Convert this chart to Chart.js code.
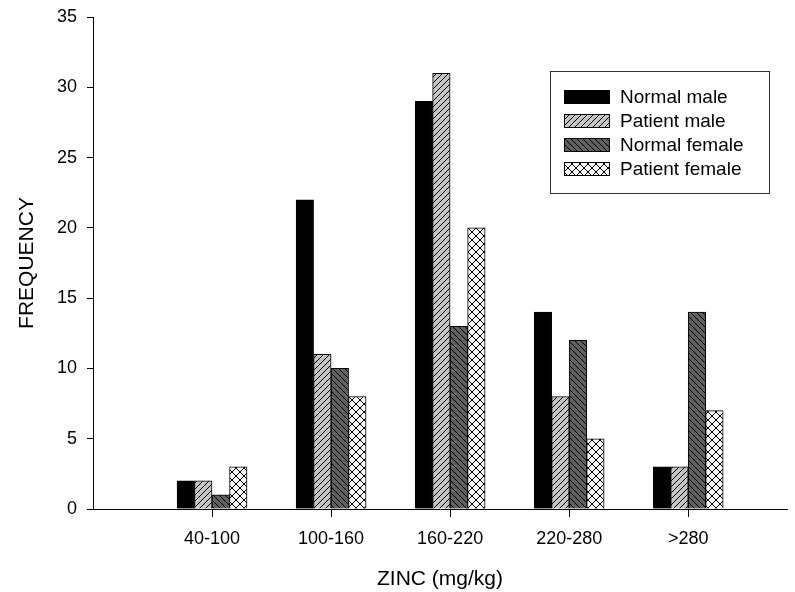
<!DOCTYPE html>
<html>
<head>
<meta charset="utf-8">
<title>Zinc frequency</title>
<script src="https://cdn.jsdelivr.net/npm/chart.js@4/dist/chart.umd.min.js"></script>
<style>
  html, body { margin: 0; padding: 0; background: #ffffff; }
  canvas { display: block; }
</style>
</head>
<body>
<canvas id="chart" width="795" height="592"></canvas>
<script>
// Zinc concentration classes and the frequency of each group
const categories = ['40-100', '100-160', '160-220', '220-280', '>280'];
const normalMale = [2, 22, 29, 14, 3];
const patientMale = [2, 11, 31, 8, 3];
const normalFemale = [1, 10, 13, 12, 14];
const patientFemale = [3, 8, 20, 5, 7];
const seriesNames = ['Normal male', 'Patient male', 'Normal female', 'Patient female'];

const FONT = '"Liberation Sans", Arial, Helvetica, sans-serif';

// Fill patterns for the hatched bars
function makePattern(size, bg, draw) {
  const c = document.createElement('canvas');
  c.width = size; c.height = size;
  const g = c.getContext('2d');
  g.fillStyle = bg;
  g.fillRect(0, 0, size, size);
  g.strokeStyle = '#000000';
  g.lineWidth = 1;
  draw(g, size);
  return document.createElement('canvas').getContext('2d').createPattern(c, 'repeat');
}
function forward(g, s) {
  g.beginPath();
  g.moveTo(0, s); g.lineTo(s, 0);
  g.moveTo(-1, 1); g.lineTo(1, -1);
  g.moveTo(s - 1, s + 1); g.lineTo(s + 1, s - 1);
  g.stroke();
}
function backward(g, s) {
  g.beginPath();
  g.moveTo(0, 0); g.lineTo(s, s);
  g.moveTo(s - 1, -1); g.lineTo(s + 1, 1);
  g.moveTo(-1, s - 1); g.lineTo(1, s + 1);
  g.stroke();
}
const fills = [
  '#000000',
  makePattern(6, '#c4c4c4', forward),
  makePattern(6, '#606060', backward),
  makePattern(8, '#f4f4f4', (g, s) => { forward(g, s); backward(g, s); })
];

const seriesValues = [normalMale, patientMale, normalFemale, patientFemale];
const datasets = seriesValues.map((vals, k) => ({
  label: seriesNames[k],
  data: vals.map((v, i) => ({ x: i + 1, y: v })),
  backgroundColor: fills[k],
  borderColor: '#000000',
  borderWidth: 1,
  barThickness: 17.5
}));

// Boxed legend inside the plot area
const boxedLegend = {
  id: 'boxedLegend',
  afterDraw(chart) {
    const ctx = chart.ctx;
    const x0 = 550, y0 = 71, w = 219, h = 122;
    ctx.save();
    ctx.fillStyle = '#ffffff';
    ctx.fillRect(x0, y0, w, h);
    ctx.strokeStyle = '#333333';
    ctx.lineWidth = 1;
    ctx.strokeRect(x0 + 0.5, y0 + 0.5, w, h);
    ctx.font = '19px ' + FONT;
    ctx.textBaseline = 'middle';
    chart.data.datasets.forEach((ds, k) => {
      const cy = 97 + k * 24;
      ctx.fillStyle = ds.backgroundColor;
      ctx.fillRect(564, cy - 7, 46, 14);
      ctx.strokeStyle = '#000000';
      ctx.strokeRect(564.5, cy - 6.5, 45, 13);
      ctx.fillStyle = '#000000';
      ctx.fillText(ds.label, 620, cy + 1);
    });
    ctx.restore();
  }
};

new Chart(document.getElementById('chart'), {
  type: 'bar',
  data: { datasets },
  plugins: [boxedLegend],
  options: {
    responsive: false,
    animation: false,
    layout: { padding: { top: 17, right: 8, bottom: 0, left: 0 } },
    plugins: { legend: { display: false }, tooltip: { enabled: false } },
    scales: {
      x: {
        type: 'linear',
        offset: false,
        min: 0,
        max: 5.83,
        afterBuildTicks(scale) {
          scale.ticks = categories.map((c, i) => ({ value: i + 1 }));
        },
        afterFit(scale) { scale.height = 83; },
        ticks: {
          color: '#000000',
          font: { family: FONT, size: 18 },
          padding: 11,
          maxRotation: 0,
          autoSkip: false,
          callback: (v) => categories[v - 1]
        },
        grid: { offset: false, drawOnChartArea: false, drawTicks: true, tickLength: 8, color: '#000000', lineWidth: 1 },
        border: { display: true, color: '#000000', width: 1 },
        title: {
          display: true,
          text: 'ZINC (mg/kg)',
          color: '#000000',
          font: { family: FONT, size: 21 },
          padding: { top: 4, bottom: 0 }
        }
      },
      y: {
        min: 0,
        max: 35,
        afterFit(scale) {
          scale.width = 93;
          scale.paddingTop = 10;
          scale.paddingBottom = 10;
        },
        ticks: {
          stepSize: 5,
          color: '#000000',
          font: { family: FONT, size: 18 },
          padding: 10
        },
        grid: { drawOnChartArea: false, drawTicks: true, tickLength: 6, color: '#000000' },
        border: { display: true, color: '#000000', width: 1 },
        title: {
          display: true,
          text: 'FREQUENCY',
          color: '#000000',
          font: { family: FONT, size: 21 },
          padding: { top: 15, bottom: 0 }
        }
      }
    }
  }
});
</script>
</body>
</html>
